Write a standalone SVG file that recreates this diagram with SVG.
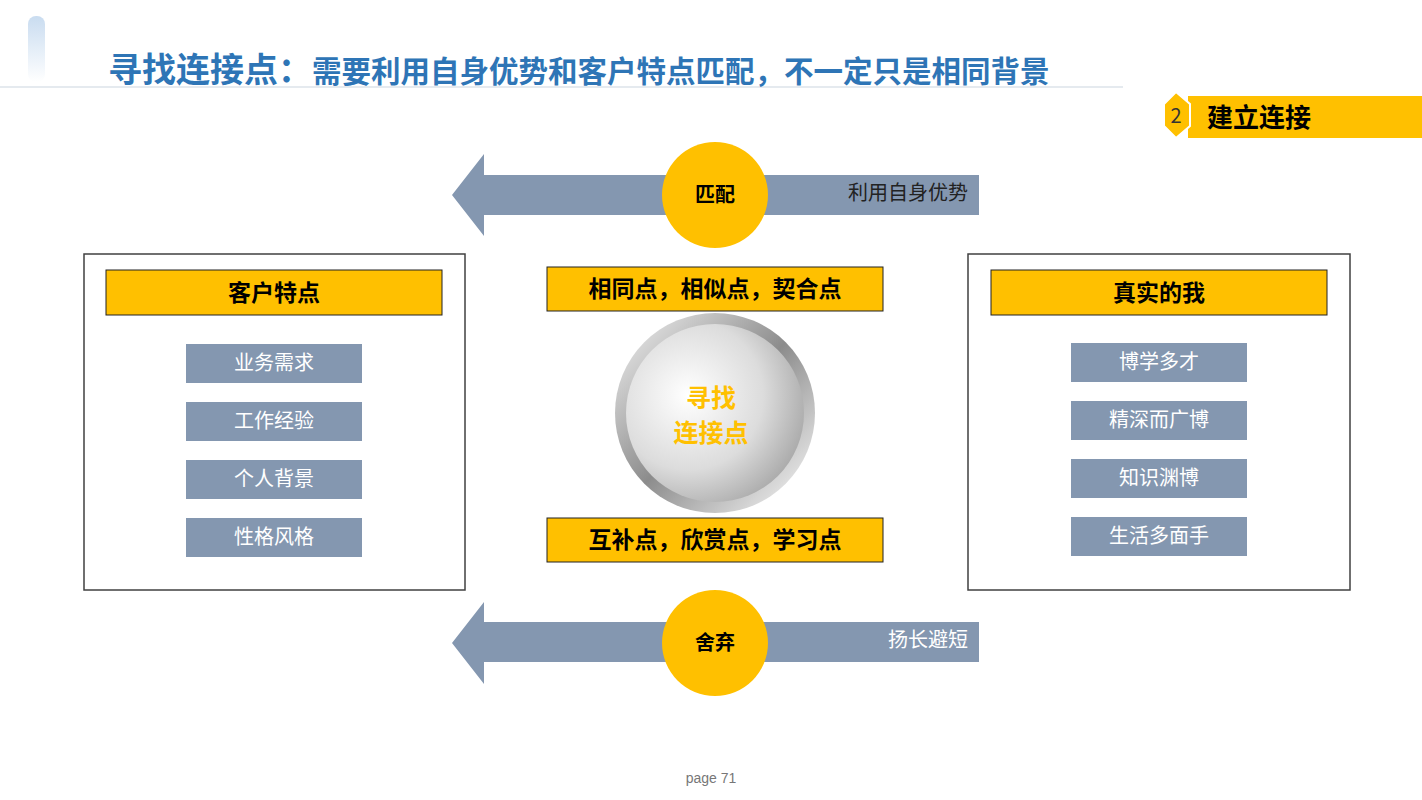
<svg xmlns="http://www.w3.org/2000/svg" width="1422" height="800" viewBox="0 0 1422 800">
<style>
.cn{font-family:"Noto Sans CJK SC","Liberation Sans",sans-serif}
.hd{fill:#FFC000;stroke:#222;stroke-width:1}
.it{fill:#8497B0}
.it-t{font-size:20px;fill:#fff;text-anchor:middle}
.hd-t{font-size:23px;font-weight:bold;fill:#000;text-anchor:middle}
.frame{fill:#fff;stroke:#404040;stroke-width:1.5}
</style>
<defs>
<linearGradient id="deco" x1="0" y1="0" x2="0" y2="1"><stop offset="0" stop-color="#c9dcf0"/><stop offset="1" stop-color="#fff"/></linearGradient>
<linearGradient id="ring" x1="0" y1="0" x2="1" y2="1"><stop offset="0" stop-color="#f4f4f4"/><stop offset="0.5" stop-color="#8c8c8c"/><stop offset="1" stop-color="#ffffff"/></linearGradient>
<radialGradient id="face" cx="0.35" cy="0.4" r="0.7"><stop offset="0" stop-color="#ffffff"/><stop offset="0.6" stop-color="#dcdcdc"/><stop offset="1" stop-color="#a8a8a8"/></radialGradient>
</defs>
<rect width="1422" height="800" fill="#fff"/>
<rect x="28" y="16" width="17" height="66" rx="8" fill="url(#deco)"/>
<line x1="0" y1="87" x2="1123" y2="87" stroke="#dde3ea" stroke-width="1.5"/>
<text x="108" y="82" class="cn" fill="#2E75B6" font-weight="bold"><tspan font-size="34">寻找连接点：</tspan><tspan font-size="29.5">需要利用自身优势和客户特点匹配，不一定只是相同背景</tspan></text>
<g id="badge">
<rect x="1188" y="96" width="234" height="42" fill="#FFC000"/>
<polygon points="1164,104 1176,92 1190,104 1190,126 1176,138 1164,126" fill="#FFC000" stroke="#fff" stroke-width="2"/>
<text x="1176" y="123" class="cn" font-size="20" text-anchor="middle" fill="#333">2</text>
<text x="1207" y="127" class="cn" font-size="26" font-weight="bold" fill="#000">建立连接</text>
</g>
<g id="connectors">
<polygon points="452,195 484,154 484,175 979,175 979,215 484,215 484,236" fill="#8497B0"/>
<polygon points="452,643 484,602 484,622 979,622 979,662 484,662 484,684" fill="#8497B0"/>
<text x="968" y="200" class="cn" font-size="20" text-anchor="end" fill="#222">利用自身优势</text>
<text x="968" y="647" class="cn" font-size="20" text-anchor="end" fill="#fff">扬长避短</text>
</g>
<g id="match"><circle cx="715" cy="195" r="53" fill="#FFC000"/><text x="715" y="202" class="cn" font-size="20" font-weight="bold" text-anchor="middle">匹配</text></g>
<g id="drop"><circle cx="715" cy="643" r="53" fill="#FFC000"/><text x="715" y="650" class="cn" font-size="20" font-weight="bold" text-anchor="middle">舍弃</text></g>
<g id="left">
<rect x="84" y="254" width="381" height="336" class="frame"/>
<rect x="106" y="270" width="336" height="45" class="hd"/><text x="274" y="301" class="cn hd-t">客户特点</text>
<rect x="186" y="344" width="176" height="39" class="it"/><text x="274" y="370" class="cn it-t">业务需求</text>
<rect x="186" y="402" width="176" height="39" class="it"/><text x="274" y="428" class="cn it-t">工作经验</text>
<rect x="186" y="460" width="176" height="39" class="it"/><text x="274" y="486" class="cn it-t">个人背景</text>
<rect x="186" y="518" width="176" height="39" class="it"/><text x="274" y="544" class="cn it-t">性格风格</text>
</g>
<g id="right">
<rect x="968" y="254" width="382" height="336" class="frame"/>
<rect x="991" y="270" width="336" height="45" class="hd"/><text x="1159" y="301" class="cn hd-t">真实的我</text>
<rect x="1071" y="343" width="176" height="39" class="it"/><text x="1159" y="369" class="cn it-t">博学多才</text>
<rect x="1071" y="401" width="176" height="39" class="it"/><text x="1159" y="427" class="cn it-t">精深而广博</text>
<rect x="1071" y="459" width="176" height="39" class="it"/><text x="1159" y="485" class="cn it-t">知识渊博</text>
<rect x="1071" y="517" width="176" height="39" class="it"/><text x="1159" y="543" class="cn it-t">生活多面手</text>
</g>
<g id="same"><rect x="547" y="267" width="336" height="44" class="hd"/><text x="715" y="297" class="cn hd-t">相同点，相似点，契合点</text></g>
<g id="comp"><rect x="547" y="518" width="336" height="44" class="hd"/><text x="715" y="548" class="cn hd-t">互补点，欣赏点，学习点</text></g>
<g id="center">
<circle cx="715" cy="413" r="100" fill="url(#ring)"/>
<circle cx="715" cy="413" r="89" fill="url(#face)"/>
<text x="711" y="407" class="cn" font-size="25" font-weight="bold" fill="#FFC000" text-anchor="middle">寻找</text>
<text x="711" y="442" class="cn" font-size="25" font-weight="bold" fill="#FFC000" text-anchor="middle">连接点</text>
</g>
<text x="711" y="783" font-family="Liberation Sans,sans-serif" font-size="14" fill="#777" text-anchor="middle">page 71</text>
</svg>
